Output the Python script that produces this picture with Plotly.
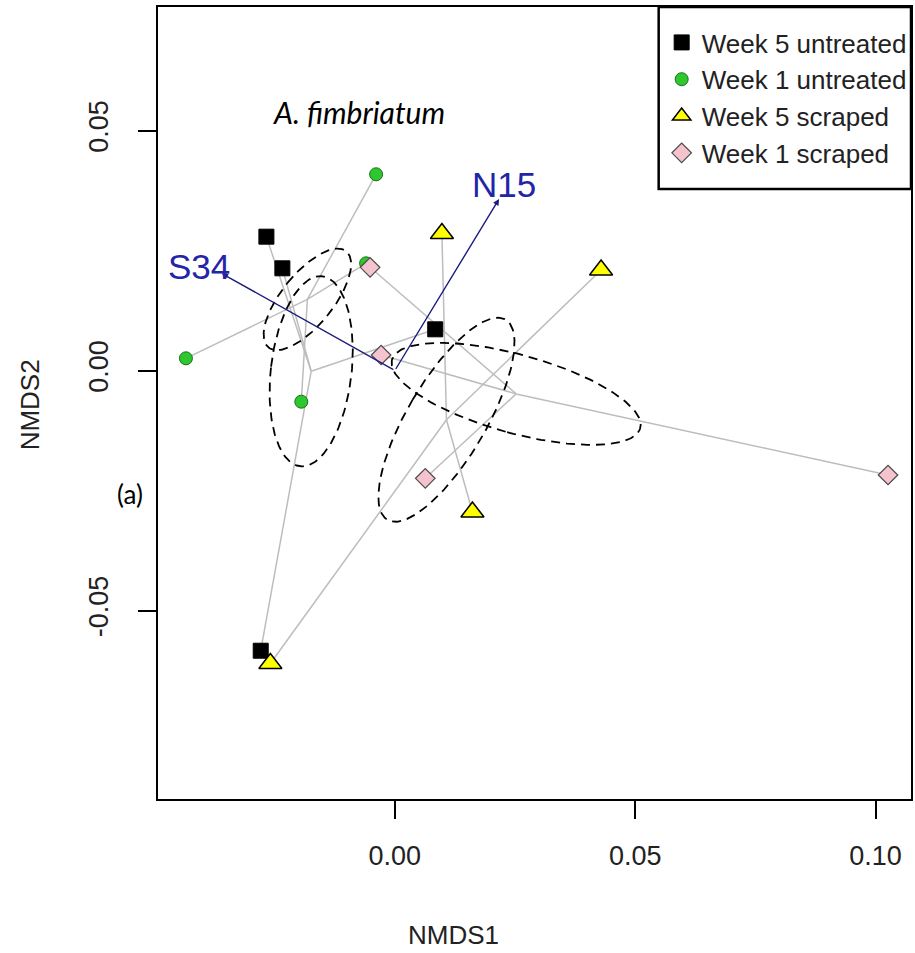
import numpy as np
import plotly.graph_objects as go

# ---------------- data ----------------
groups = ["Week 5 untreated", "Week 1 untreated", "Week 5 scraped", "Week 1 scraped"]

w5u_x = [-0.02672, -0.02340, 0.00840, -0.02790]
w5u_y = [0.02788, 0.02129, 0.00858, -0.05838]

w1u_x = [-0.00390, -0.04346, -0.01946, -0.00598]
w1u_y = [0.04088, 0.00254, -0.00650, 0.02233]

w5s_x = [0.00979, 0.04290, 0.01614, -0.02589]
w5s_y = [0.02854, 0.02094, -0.02948, -0.06104]

w1s_x = [-0.00515, -0.00286, 0.00633, 0.10259]
w1s_y = [0.02150, 0.00323, -0.02246, -0.02177]

vec_names = ["S34", "N15"]
vec_x = [-0.03600, 0.02168]
vec_y = [0.02021, 0.03573]

x_ticks = [0.00, 0.05, 0.10]
x_ticktext = ["0.00", "0.05", "0.10"]
y_ticks = [-0.05, 0.00, 0.05]
y_ticktext = ["-0.05", "0.00", "0.05"]

# ---------------- styles ----------------
styles = {
    "Week 5 untreated": dict(symbol="square", size=15, color="#000000", line=dict(color="#000000", width=1)),
    "Week 1 untreated": dict(symbol="circle", size=13, color="#2fc72f", line=dict(color="#1b6e1b", width=1)),
    "Week 5 scraped": dict(symbol="triangle-up", size=20, color="#ffff00", line=dict(color="#000000", width=1.5)),
    "Week 1 scraped": dict(symbol="diamond", size=15, color="#f4c3cd", line=dict(color="#4a4a4a", width=1.2)),
}
data = {
    "Week 5 untreated": (w5u_x, w5u_y),
    "Week 1 untreated": (w1u_x, w1u_y),
    "Week 5 scraped": (w5s_x, w5s_y),
    "Week 1 scraped": (w1s_x, w1s_y),
}

FONT = "Liberation Sans, Arial, sans-serif"
fig = go.Figure()

# spiders (centroid to each point)
for g in groups:
    xs, ys = np.array(data[g][0]), np.array(data[g][1])
    cx, cy = xs.mean(), ys.mean()
    lx, ly = [], []
    for a, b in zip(xs, ys):
        lx += [cx, a, None]
        ly += [cy, b, None]
    fig.add_trace(go.Scatter(x=lx, y=ly, mode="lines", line=dict(color="#bdbdbd", width=1.5),
                             showlegend=False, hoverinfo="skip"))

# standard-error ellipses
t = np.linspace(0, 2 * np.pi, 200)
for g in groups:
    xs, ys = np.array(data[g][0]), np.array(data[g][1])
    pts = np.vstack([xs, ys])
    cov = np.cov(pts) / len(xs)
    vals, vecs = np.linalg.eigh(cov)
    circ = np.vstack([np.cos(t), np.sin(t)])
    ell = vecs @ (np.sqrt(vals)[:, None] * circ)
    fig.add_trace(go.Scatter(x=ell[0] + xs.mean(), y=ell[1] + ys.mean(), mode="lines",
                             line=dict(color="black", width=1.8, dash="9px,6px"),
                             showlegend=False, hoverinfo="skip"))

# points
for g in groups:
    st = styles[g]
    fig.add_trace(go.Scatter(x=data[g][0], y=data[g][1], mode="markers", name=g, legendgroup=g,
                             marker=dict(symbol=st["symbol"], size=st["size"], color=st["color"],
                                         line=st["line"])))

# environmental vectors
for n, vx, vy in zip(vec_names, vec_x, vec_y):
    fig.add_annotation(x=vx, y=vy, ax=0, ay=0, xref="x", yref="y", axref="x", ayref="y",
                       showarrow=True, arrowhead=2, arrowsize=0.9, arrowwidth=1.4,
                       arrowcolor="#1c1c7e", text="")
    fig.add_annotation(x=vx * 1.1, y=vy * 1.1, xref="x", yref="y", text=n, showarrow=False,
                       xanchor="center", yanchor="middle", xshift=-5, yshift=-3,
                       font=dict(family=FONT, size=35, color="#2424a8"))

# texts
fig.add_annotation(x=-0.00737, y=0.0539, xref="x", yref="y", text="<i>A. fimbriatum</i>",
                   showarrow=False, xanchor="center", yanchor="middle",
                   font=dict(family="Lato, Carlito, sans-serif", size=30, color="black"))
fig.add_annotation(x=-0.0371, y=0.385, xref="paper", yref="paper", text="(a)", showarrow=False,
                   xanchor="center", yanchor="middle",
                   font=dict(family="Lato, Carlito, sans-serif", size=26, color="black"))
fig.add_annotation(x=0.393, y=-0.1717, xref="paper", yref="paper", text="NMDS1", showarrow=False,
                   xanchor="center", yanchor="middle",
                   font=dict(family=FONT, size=26, color="#222"))
fig.add_annotation(x=-0.1695, y=0.4975, xref="paper", yref="paper", text="NMDS2", showarrow=False,
                   xanchor="center", yanchor="middle", textangle=-90,
                   font=dict(family=FONT, size=26, color="#222"))

# legend frame
leg_left = (660 - 158) / 755
leg_bottom = (799 - 189) / 792
fig.add_shape(type="rect", xref="paper", yref="paper", x0=leg_left, x1=1, y0=leg_bottom, y1=1,
              line=dict(color="black", width=2.5), fillcolor="white", layer="above")

axis_common = dict(showgrid=False, zeroline=False, showline=True, linecolor="black", linewidth=1.5,
                   mirror=True, ticks="outside", ticklen=18, tickwidth=1.5, tickcolor="black",
                   tickfont=dict(family=FONT, size=27, color="#222"))

fig.update_layout(
    width=915, height=953,
    margin=dict(l=158, r=2, t=7, b=154),
    paper_bgcolor="white", plot_bgcolor="white",
    xaxis=dict(range=[-0.04927, 0.10737], tickvals=x_ticks, ticktext=x_ticktext,
               ticklabelstandoff=14, **axis_common),
    yaxis=dict(range=[-0.08927, 0.07573], tickvals=y_ticks, ticktext=y_ticktext, tickangle=-90,
               ticklabelstandoff=19, **axis_common),
    legend=dict(x=(663 - 158) / 755, y=(799 - 19) / 792, xanchor="left", yanchor="top",
                bgcolor="rgba(0,0,0,0)", borderwidth=0,
                font=dict(family=FONT, size=26, color="#222"),
                tracegroupgap=0, itemwidth=30),
    showlegend=True,
)

fig.write_html("out.html", config={"displayModeBar": False},
               post_script="document.body.style.margin='0';document.body.style.overflow='hidden';")
